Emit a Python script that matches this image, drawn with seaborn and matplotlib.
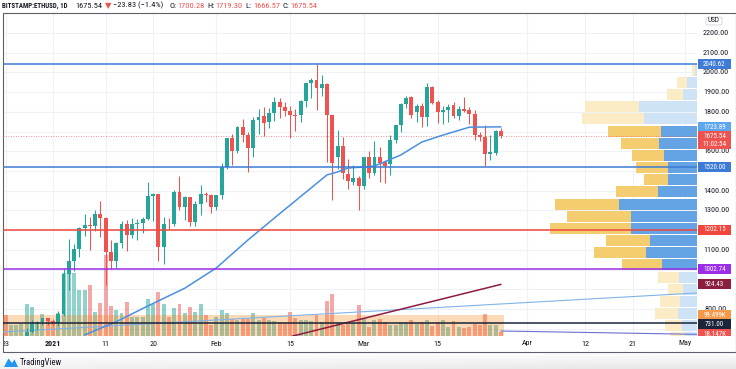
import numpy as np
import pandas as pd
import matplotlib
matplotlib.use("Agg")
import matplotlib.pyplot as plt
import matplotlib.dates as mdates
import matplotlib.transforms as mtrans
from matplotlib.lines import Line2D
from matplotlib.patches import Rectangle, Polygon, FancyBboxPatch
from matplotlib.colors import to_rgba, LinearSegmentedColormap
from matplotlib import font_manager
import seaborn as sns

# ---------------------------------------------------------------- data
dates = pd.date_range("2020-12-23", "2021-03-27", freq="D")

opens = [635, 584, 612, 626, 635, 683, 730, 732, 752, 740, 730, 776, 976, 1042, 1105, 1212,
         1226, 1222, 1283, 1262, 1090, 1045, 1133, 1230, 1175, 1232, 1235, 1258, 1372, 1381,
         1115, 1233, 1230, 1392, 1317, 1367, 1240, 1331, 1381, 1376, 1317, 1376, 1519, 1666,
         1600, 1722, 1682, 1616, 1758, 1779, 1748, 1794, 1850, 1824, 1804, 1783, 1783, 1855,
         1945, 1961, 1920, 1940, 1783, 1570, 1626, 1484, 1444, 1464, 1424, 1570, 1489, 1570,
         1545, 1535, 1656, 1733, 1840, 1875, 1799, 1830, 1773, 1925, 1850, 1800, 1810, 1835,
         1779, 1814, 1809, 1789, 1680, 1671, 1586, 1590, 1700.28]
highs = [637, 615, 628, 648, 705, 745, 738, 754, 755, 750, 788, 1010, 1155, 1130, 1215, 1280,
         1265, 1300, 1350, 1265, 1150, 1140, 1245, 1250, 1260, 1255, 1265, 1443, 1390, 1383,
         1265, 1260, 1405, 1474, 1372, 1370, 1350, 1430, 1395, 1385, 1380, 1540, 1668, 1690,
         1730, 1765, 1700, 1775, 1815, 1825, 1820, 1875, 1870, 1850, 1830, 1815, 1860, 1945,
         1970, 2042, 1985, 1945, 1785, 1710, 1670, 1560, 1530, 1475, 1570, 1600, 1650, 1620,
         1550, 1680, 1735, 1845, 1880, 1880, 1840, 1845, 1945, 1930, 1860, 1830, 1840, 1850,
         1830, 1875, 1825, 1810, 1700, 1733, 1680, 1710, 1719.30]
lows = [570, 570, 600, 612, 625, 680, 692, 718, 720, 716, 715, 765, 895, 990, 1065, 1170,
        1100, 1195, 1165, 920, 1005, 1010, 1110, 1095, 1160, 1150, 1185, 1250, 1245, 1045,
        1030, 1205, 1220, 1300, 1250, 1220, 1220, 1275, 1340, 1285, 1300, 1360, 1510, 1530,
        1590, 1645, 1495, 1570, 1690, 1678, 1720, 1755, 1770, 1780, 1667, 1705, 1750, 1825,
        1872, 1809, 1880, 1545, 1352, 1510, 1460, 1410, 1430, 1300, 1410, 1462, 1480, 1445,
        1440, 1480, 1640, 1700, 1820, 1770, 1750, 1725, 1730, 1840, 1743, 1740, 1750, 1770,
        1760, 1800, 1740, 1657, 1650, 1525, 1555, 1580, 1666.57]
closes = [584, 612, 626, 635, 683, 730, 732, 752, 740, 730, 776, 976, 1042, 1105, 1212, 1226,
          1222, 1283, 1262, 1090, 1045, 1133, 1230, 1175, 1232, 1235, 1258, 1372, 1381, 1115,
          1233, 1230, 1392, 1317, 1367, 1240, 1331, 1381, 1376, 1317, 1376, 1519, 1666, 1600,
          1722, 1682, 1616, 1758, 1773, 1743, 1794, 1850, 1824, 1804, 1783, 1781, 1855, 1945,
          1961, 1920, 1940, 1783, 1538, 1626, 1489, 1449, 1464, 1424, 1570, 1489, 1570, 1540,
          1525, 1656, 1733, 1840, 1870, 1785, 1830, 1773, 1925, 1845, 1800, 1810, 1825, 1779,
          1814, 1805, 1789, 1682, 1670, 1586, 1594, 1702, 1675.54]
volumes_k = [99, 52, 52, 57, 152, 137, 66, 104, 85, 71, 109, 298, 330, 298, 218, 218, 242, 114,
             156, 384, 142, 123, 109, 161, 90, 90, 90, 175, 152, 208, 152, 90, 133, 152, 109,
             137, 114, 152, 99, 52, 90, 123, 109, 80, 76, 80, 80, 109, 76, 85, 76, 71, 66, 62,
             114, 85, 76, 76, 71, 99, 66, 166, 199, 66, 52, 62, 62, 147, 85, 43, 76, 80, 66, 52,
             52, 66, 66, 76, 57, 66, 76, 47, 66, 76, 43, 71, 43, 38, 43, 57, 52, 104, 52, 52,
             18.147]
volume_ma_k = 99.499

# moving average (blue)
ma_dates = ["2021-01-07", "2021-01-13", "2021-01-19", "2021-01-26", "2021-02-01", "2021-02-07",
            "2021-02-12", "2021-02-22", "2021-02-24", "2021-02-26", "2021-03-01", "2021-03-03",
            "2021-03-08", "2021-03-12", "2021-03-16", "2021-03-21", "2021-03-27"]
ma_values = [668, 735, 815, 905, 1008, 1150, 1261, 1480, 1495, 1515, 1520, 1525, 1581, 1647,
             1682, 1722, 1723.89]
# long moving average (maroon)
ma_long_dates = ["2021-02-15 10:00", "2021-03-27 00:00"]
ma_long_values = [662, 924.43]
# drawn trend lines
trend_dates = ["2020-12-22 12:00", "2021-05-03 05:00"]
trend_values = [683, 881]
trend2_dates = ["2021-03-27 00:00", "2021-05-03 05:00"]
trend2_values = [688, 671]

level_values = [2040.62, 1520.00, 1202.15, 1002.74, 731.00]
level_colors = ["#3d7bd6", "#3d7bd6", "#f0463c", "#9b2ee6", "#1b2438"]
last_price = 1675.54

# visible-range volume profile (24 rows, thousand ETH)
vp_low, vp_high, vp_rows = 560, 2042, 24
vp_up = [49, 84, 105, 133, 119, 98, 126, 245, 357, 329, 462, 462, 546, 273, 203, 203, 231,
         266, 252, 371, 406, 98, 70, 14]
vp_down = [70, 105, 119, 161, 140, 105, 147, 280, 364, 308, 567, 448, 448, 294, 168, 224, 224,
           266, 371, 434, 378, 112, 70, 21]
vp_value_area = (7, 18)

tick_dates = ["2020-12-23", "2021-01-01", "2021-01-11", "2021-01-20", "2021-02-01",
              "2021-02-15", "2021-03-01", "2021-03-15", "2021-04-01", "2021-04-12",
              "2021-04-21", "2021-05-01"]
tick_labels = ["23", "2021", "11", "20", "Feb", "15", "Mar", "15", "Apr", "12", "21", "May"]
price_ticks = list(range(700, 2201, 100))


def dnum(lst):
    return mdates.date2num([pd.Timestamp(s).to_pydatetime() for s in lst])


# ---------------------------------------------------------------- style
sns.set_theme(style="white")
avail = {f.name for f in font_manager.fontManager.ttflist}
narrow = next((f for f in ["Liberation Sans Narrow", "Roboto Condensed", "Liberation Sans"]
               if f in avail), "DejaVu Sans")
FAM = [narrow, "DejaVu Sans"]
plt.rcParams["font.family"] = FAM

UP, DN = "#26a69a", "#ef5350"
GRID = "#eef1f6"
TXT = "#131722"

W, H = 736, 369
fig = plt.figure(figsize=(W / 100, H / 100), dpi=100)
fig.patch.set_facecolor("white")

# soft shadow band under the chart card
bg = fig.add_axes([0, 0, 1, 17 / H], zorder=-5)
grad = np.linspace(0, 1, 40)[:, None] * np.linspace(0.55, 1, 200)[None, :]
bg.imshow(grad, aspect="auto", origin="upper", extent=(0, 1, 0, 1),
          cmap=LinearSegmentedColormap.from_list("sh", ["#ffffff", "#e6e6e6"]), vmin=0, vmax=1)
bg.set_axis_off()

PL, PR, PT, PB = 3, 697, 13, 336
ax = fig.add_axes([PL / W, 1 - PB / H, (PR - PL) / W, (PB - PT) / H])
ax_vol = ax.twinx()
ax_vp = ax.twiny()
ax_vp.set_zorder(0)
ax_vol.set_zorder(1)
ax.set_zorder(2)
for a in (ax, ax_vol, ax_vp):
    a.patch.set_visible(False)
    a.tick_params(which="both", left=False, right=False, top=False, bottom=False,
                  labelleft=False, labelright=False, labeltop=False, labelbottom=False)
    for s in a.spines.values():
        s.set_visible(False)
    a.grid(False)

xs = dnum(dates)
x_left, x_right = dnum(["2020-12-22 12:15", "2021-05-03 04:50"])
YLIM = (662.6, 2301.4)
VLIM = (0, 1530)
VPLIM = (4858, 0)
ax.set_xlim(x_left, x_right)
ax.set_ylim(*YLIM)
ax_vol.set_ylim(*VLIM)
ax_vp.set_xlim(*VPLIM)

tick_x = dnum(tick_dates)

# grid (behind everything)
for p in price_ticks:
    ax_vp.axhline(p, color=GRID, lw=0.8, zorder=0)
blend = mtrans.blended_transform_factory(ax.transData, ax_vp.transAxes)
for tx in tick_x:
    ax_vp.add_line(Line2D([tx, tx], [0, 1], transform=blend, color=GRID, lw=0.8, zorder=0))

# volume profile
rh = (vp_high - vp_low) / vp_rows
idx = np.arange(vp_rows)
centers = vp_low + rh * (idx + 0.5)
in_va = (idx >= vp_value_area[0]) & (idx <= vp_value_area[1])
blue_c = ["#64a4e4" if v else "#cfe3f6" for v in in_va]
yel_c = ["#f4cd70" if v else "#fcecc6" for v in in_va]
ax_vp.barh(centers, vp_up, height=rh * 0.9, left=0, color=blue_c, linewidth=0, zorder=1)
ax_vp.barh(centers, vp_down, height=rh * 0.9, left=vp_up, color=yel_c, linewidth=0, zorder=1)

# volume
is_up = [c >= o for o, c in zip(opens, closes)]
vcols = [to_rgba(UP if u else DN, 0.5) for u in is_up]
ax_vol.bar(xs, volumes_k, width=0.75, color=vcols, linewidth=0, zorder=1)
ax_vol.fill_between([xs[0] - 0.5, xs[-1] + 0.5], 0, volume_ma_k, color="#f57c00",
                    alpha=0.28, lw=0, zorder=2)

# candles
ccols = [UP if u else DN for u in is_up]
body_b = [min(o, c) for o, c in zip(opens, closes)]
body_h = [max(abs(c - o), 2.5) for o, c in zip(opens, closes)]
ax.vlines(xs, lows, highs, colors=ccols, lw=0.75, zorder=3)
ax.bar(xs, body_h, bottom=body_b, width=0.74, color=ccols, linewidth=0, zorder=4)

# lines
ax.axhline(last_price, color=DN, lw=0.6, ls=(0, (1, 2)), alpha=0.8, zorder=2)
ax.plot(dnum(trend_dates), trend_values, color="#80b3e8", lw=0.8, zorder=2)
ax.plot(dnum(trend2_dates), trend2_values, color="#6b6fd0", lw=0.8, zorder=2)
sns.lineplot(x=dnum(ma_long_dates), y=ma_long_values, ax=ax, color="#8b1e3f", lw=1.1,
             legend=False, zorder=5)
sns.lineplot(x=dnum(ma_dates), y=ma_values, ax=ax, color="#4a8fe0", lw=1.1, legend=False,
             zorder=5)
for v, c in zip(level_values, level_colors):
    ax.axhline(v, color=c, lw=1.1, zorder=6)

ax.set_xlim(x_left, x_right)
ax.set_ylim(*YLIM)
ax_vp.set_xlim(*VPLIM)
ax_vol.set_ylim(*VLIM)
for a in (ax, ax_vol, ax_vp):
    a.set_xlabel("")
    a.set_ylabel("")


def ypx(a, v):
    return H - a.transData.transform((x_left, v))[1]


# ---------------------------------------------------------------- right scale
scale_clip = Rectangle((PR / W, 1 - PB / H), (W - PR) / W, (PB - PT) / H,
                       transform=fig.transFigure, visible=False)
fig.add_artist(scale_clip)

boxes = [
    (ypx(ax, 2040.62), 10, "#3d7bd6", ["2040.62"]),
    (ypx(ax, 1723.89), 10, "#5ea7ee", ["1723.89"]),
    (ypx(ax, last_price) + 4, 18, DN, ["1675.54", "11:02:54"]),
    (ypx(ax, 1520.00), 10, "#3d7bd6", ["1520.00"]),
    (ypx(ax, 1202.15), 10, "#f0463c", ["1202.15"]),
    (ypx(ax, 1002.74), 10, "#9b2ee6", ["1002.74"]),
    (ypx(ax, 924.43), 10, "#8b1e3f", ["924.43"]),
    (ypx(ax_vol, volume_ma_k), 10, "#f59a4a", ["99.499K"]),
    (ypx(ax, 731.00), 10, "#1b2438", ["731.00"]),
    (ypx(ax_vol, volumes_k[-1]), 10, DN, ["18.147K"]),
]
boxes.sort(key=lambda b: b[0])
placed = []
prev_bottom = -1e9
for yc, hgt, col, lines in boxes:
    top = yc - hgt / 2 if len(lines) == 1 else yc - 9
    if top < prev_bottom - 0.5:
        top = prev_bottom - 0.5
    placed.append((top, top + hgt, col, lines))
    prev_bottom = top + hgt

for p in price_ticks:
    yp = ypx(ax, p)
    cover = max([0] + [min(b, yp + 3.5) - max(t, yp - 3.5) for t, b, _, _ in placed])
    if cover > 3.0:
        continue
    t = fig.text(716 / W, 1 - yp / H, f"{p:.2f}", ha="center", va="center",
                 fontsize=5.8, color=TXT)
    t.set_clip_path(scale_clip)

for top, bot, col, lines in placed:
    r = Rectangle((698 / W, 1 - bot / H), 33 / W, (bot - top) / H, transform=fig.transFigure,
                  fc=col, ec="none", zorder=20)
    fig.add_artist(r)
    r.set_clip_path(scale_clip)
    for i, s in enumerate(lines):
        dy = 5.6 + 7.6 * i if len(lines) > 1 else 5.2
        t = fig.text(714.5 / W, 1 - (top + dy) / H, s, ha="center", va="center",
                     fontsize=5.0, color="white", zorder=21)
        t.set_clip_path(scale_clip)

fig.add_artist(FancyBboxPatch((706 / W, 1 - 25 / H), 16 / W, 8 / H,
                              boxstyle="round,pad=0,rounding_size=0.004",
                              transform=fig.transFigure, fc="white", ec="#d1d4dc", lw=0.6))
fig.text(714 / W, 1 - 21 / H, "USD", ha="center", va="center", fontsize=5.2, color=TXT)

# ---------------------------------------------------------------- time scale
time_clip = Rectangle((4 / W, 1 - 351 / H), (W - 4) / W, 15 / H, transform=fig.transFigure,
                      visible=False)
fig.add_artist(time_clip)
for tx, lab in zip(tick_x, tick_labels):
    xp = ax.transData.transform((tx, 1000))[0]
    t = fig.text(xp / W, 1 - 343.5 / H, lab, ha="center", va="center", fontsize=5.8,
                 color=TXT, fontweight="bold" if lab == "2021" else "normal")
    t.set_clip_path(time_clip)

# ---------------------------------------------------------------- header
renderer = fig.canvas.get_renderer()


def width_at(s, size, wt):
    t = fig.text(0, 0, s, fontsize=size, fontweight=wt, fontfamily=FAM)
    w = t.get_window_extent(renderer).width
    t.remove()
    return w


size_b = min(6.4, 6.2 * 65 / width_at("BITSTAMP:ETHUSD, 1D", 6.2, "bold"))
size_n = min(6.6, 6.2 * 27 / width_at("1700.28", 6.2, "normal"))
pieces = [("BITSTAMP:ETHUSD, 1D", TXT, "bold", 8), ("1675.54", TXT, "normal", 2),
          ("▼", DN, "normal", 2), ("−23.83 (−1.4%)", TXT, "normal", 6),
          ("O:", TXT, "normal", 1), ("1700.28", DN, "normal", 3),
          ("H:", TXT, "normal", 1), ("1719.30", DN, "normal", 3),
          ("L:", TXT, "normal", 1), ("1666.57", DN, "normal", 3),
          ("C:", TXT, "normal", 1), ("1675.54", DN, "normal", 0)]
xcur = 2
for s, col, wt, gap in pieces:
    size = size_b if wt == "bold" else size_n
    t = fig.text(xcur / W, 1 - 5.5 / H, s, ha="left", va="center", fontsize=size, color=col,
                 fontweight=wt, fontfamily=FAM)
    xcur += t.get_window_extent(renderer).width + gap

# frame
fig.add_artist(Rectangle((3 / W, 1 - 351.5 / H), (W - 3) / W, (351.5 - 13) / H, fill=False,
                         ec="#5d606b", lw=0.8, transform=fig.transFigure))

# TradingView logo
fig.add_artist(Polygon([(4 / W, 1 - 367 / H), (8.5 / W, 1 - 358.5 / H), (12 / W, 1 - 363 / H),
                        (14.5 / W, 1 - 359.5 / H), (18 / W, 1 - 367 / H)],
                       closed=True, fc="#2196f3", ec="none", transform=fig.transFigure))
fig.text(20 / W, 1 - 362.5 / H, "TradingView", ha="left", va="center", fontsize=6.2,
         color=TXT)

fig.savefig("out.png", dpi=100, facecolor="white")
